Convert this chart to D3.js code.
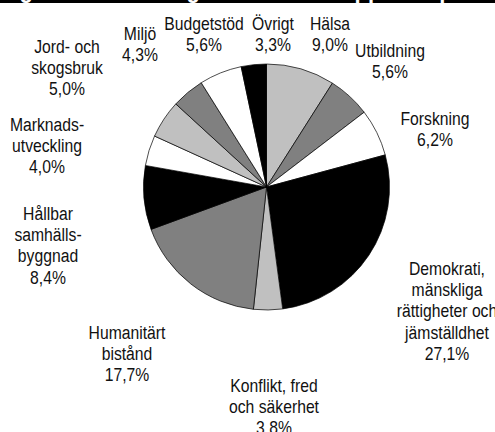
<!DOCTYPE html>
<html>
<head>
<meta charset="utf-8">
<script src="https://cdn.jsdelivr.net/npm/d3@7"></script>
<style>
  body { margin: 0; background: #fff; }
  svg text { font-family: "Liberation Sans", Arial, sans-serif; }
</style>
</head>
<body>
<div id="chart"></div>
<script>
// Sektorer, medurs från klockan tolv
const sectors = ["Hälsa", "Utbildning", "Forskning", "Demokrati, mänskliga rättigheter och jämställdhet",
  "Konflikt, fred och säkerhet", "Humanitärt bistånd", "Hållbar samhällsbyggnad", "Marknadsutveckling",
  "Jord- och skogsbruk", "Miljö", "Budgetstöd", "Övrigt"];
const shares = [9.0, 5.6, 6.2, 27.1, 3.8, 17.7, 8.4, 4.0, 5.0, 4.3, 5.6, 3.3];
const labelLines = [["Hälsa"], ["Utbildning"], ["Forskning"], ["Demokrati,", "mänskliga", "rättigheter och", "jämställdhet"],
  ["Konflikt, fred", "och säkerhet"], ["Humanitärt", "bistånd"], ["Hållbar", "samhälls-", "byggnad"], ["Marknads-", "utveckling"],
  ["Jord- och", "skogsbruk"], ["Miljö"], ["Budgetstöd"], ["Övrigt"]];
const title = "Figur 3. Fördelning av biståndet uppdelat per sektor";

// layout
const width = 495, height = 432;
const cx = 266.5, cy = 187, radius = 123;
const fills = ["#c0c0c0", "#808080", "#ffffff", "#000000", "#c0c0c0", "#808080",
  "#000000", "#ffffff", "#c0c0c0", "#808080", "#ffffff", "#000000"];
// label block anchors (centre x, first line y)
const labelAt = [[330, 23], [390, 50], [435, 118], [447, 268], [274, 385], [127, 332],
  [48, 213], [47, 124], [67, 46], [140, 33], [204, 23], [273, 23]];
const lh = 21.5;
const narrow = 0.85; // condensed look

const fmt = d => d3.format(".1f")(d).replace(".", ",") + "%";

let svg = d3.select('#chart').append('svg')
    .attr('width', width)
    .attr('height', height);

// title banner, cut at the top edge
svg.append('rect')
    .attr('x', 0).attr('y', 0)
    .attr('width', width).attr('height', 3)
    .attr('fill', '#000');
svg.append('text')
    .attr('transform', 'translate(0,-2) scale(' + narrow + ',1)')
    .attr('fill', '#fff')
    .style('font-size', '26px')
    .style('font-weight', 'bold')
    .text(title);

let pie = d3.pie().sort(null).value(d => d);
let arc = d3.arc().innerRadius(0).outerRadius(radius);

let g = svg.append('g')
    .attr('transform', 'translate(' + cx + ',' + cy + ')');

g.selectAll('path')
    .data(pie(shares))
    .enter().append('path')
    .attr('d', arc)
    .attr('fill', (d, i) => fills[i])
    .attr('stroke', '#000')
    .attr('stroke-width', 0.7);

let labels = svg.selectAll('.label')
    .data(shares)
    .enter().append('text')
    .attr('class', 'label')
    .attr('transform', (d, i) => 'translate(' + labelAt[i][0] + ',' + (labelAt[i][1] + 6.5) + ') scale(' + narrow + ',1)')
    .attr('text-anchor', 'middle')
    .attr('fill', '#111')
    .style('font-size', '18.5px');

labels.each(function(d, i) {
    let lines = labelLines[i].concat([fmt(d)]);
    d3.select(this).selectAll('tspan')
        .data(lines)
        .enter().append('tspan')
        .attr('x', 0)
        .attr('y', (t, j) => j * lh)
        .text(t => t);
});
</script>
</body>
</html>
